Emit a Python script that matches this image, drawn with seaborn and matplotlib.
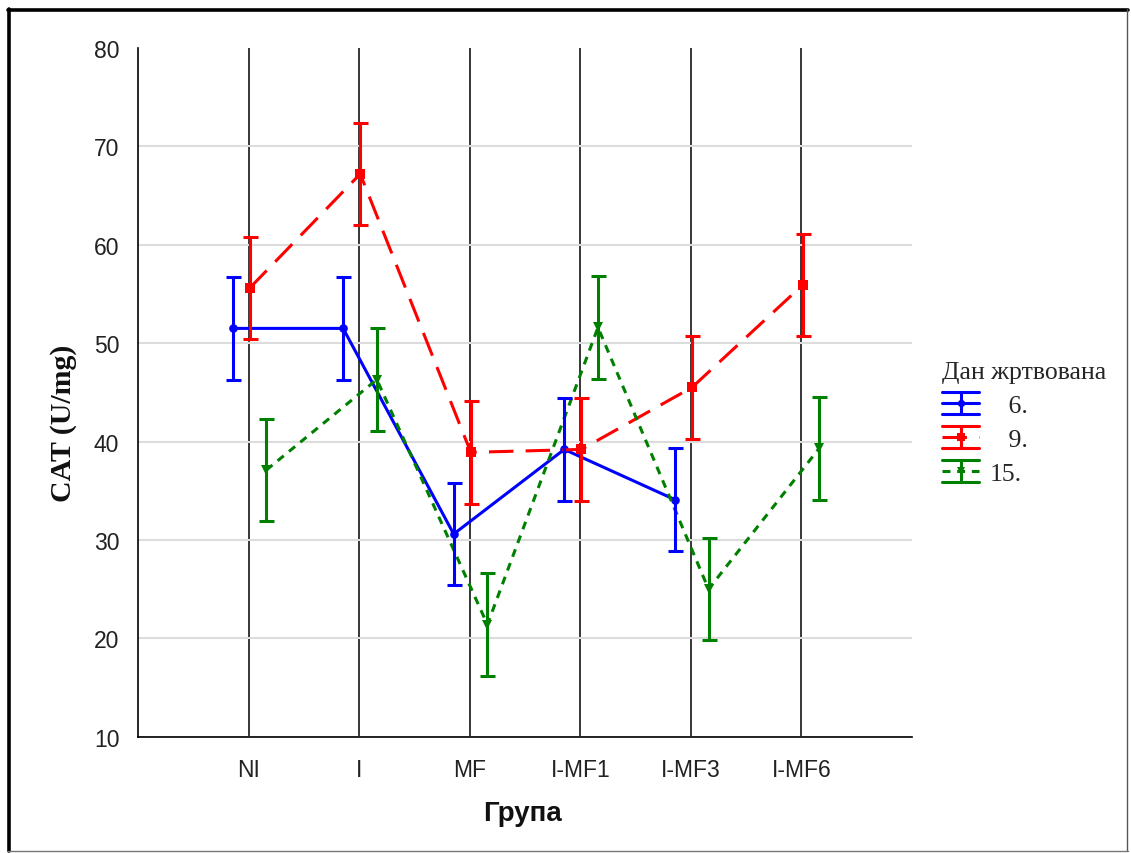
import numpy as np
import pandas as pd
import matplotlib
matplotlib.use("Agg")
import matplotlib.pyplot as plt
import seaborn as sns
from matplotlib.lines import Line2D
from matplotlib.legend_handler import HandlerBase
from matplotlib.ticker import MultipleLocator, FixedLocator

# --- data -------------------------------------------------------------
groups = ["NI", "I", "MF", "I-MF1", "I-MF3", "I-MF6"]
days = ["6.", "9.", "15."]

cat_day6 = [51.5, 51.5, 30.6, 39.2, 34.1, np.nan]
cat_day9 = [55.6, 67.2, 38.9, 39.2, 45.5, 55.9]
cat_day15 = [37.1, 46.3, 21.4, 51.6, 25.0, 39.3]

se_day6 = [5.2, 5.2, 5.2, 5.2, 5.2, np.nan]
se_day9 = [5.2, 5.2, 5.2, 5.2, 5.2, 5.2]
se_day15 = [5.2, 5.2, 5.2, 5.2, 5.2, 5.2]

yticks = [10, 20, 30, 40, 50, 60, 70, 80]

# --- styling ------------------------------------------------------------
colors = {"6.": "#0000ff", "9.": "#ff0000", "15.": "#008000"}
dodge = {"6.": -0.145, "9.": 0.01, "15.": 0.16}
dashes = {"6.": "", "9.": (8, 4), "15.": (2.6, 2.2)}
markers = {"6.": "o", "9.": "s", "15.": "v"}
msizes = {"6.": 6.2, "9.": 6.8, "15.": 7}
LW = 2.2
SERIF = ["Liberation Serif", "DejaVu Serif"]

means = {"6.": cat_day6, "9.": cat_day9, "15.": cat_day15}
errs = {"6.": se_day6, "9.": se_day9, "15.": se_day15}

rows = []
for d in days:
    for i, g in enumerate(groups):
        m, e = means[d][i], errs[d][i]
        if np.isnan(m):
            continue
        rows.append({"day": d, "group": g, "x": i + dodge[d], "mean": m, "se": e})
df = pd.DataFrame(rows)

sns.set_theme(style="white")
plt.rcParams["font.family"] = ["Liberation Sans", "DejaVu Sans"]

fig = plt.figure(figsize=(11.31, 8.54), dpi=100)
ax = fig.add_axes([138 / 1131, (854 - 737.7) / 854, 774 / 1131, 688.7 / 854])

# reference grid: black verticals at groups, light grey horizontals
ax.set_xlim(-1, 6)
ax.set_ylim(10, 80)
ax.set_xticks(range(len(groups)))
ax.set_xticklabels(groups)
ax.xaxis.set_minor_locator(FixedLocator([-1]))
ax.set_yticks(yticks)
ax.yaxis.set_minor_locator(MultipleLocator(2))
ax.grid(axis="x", color="black", lw=1.1)
ax.grid(axis="y", color="#dcdcdc", lw=1.5)
ax.yaxis.get_gridlines()[-1].set_visible(False)
ax.set_axisbelow(True)

for s in ["top", "right"]:
    ax.spines[s].set_visible(False)
for s in ["left", "bottom"]:
    ax.spines[s].set_color("black")
    ax.spines[s].set_linewidth(1.2)

ax.tick_params(axis="both", which="both", direction="out", length=3.5, width=1,
               color="black", labelsize=16.5, labelcolor="#222222")
ax.tick_params(axis="y", which="major", pad=10)
ax.tick_params(axis="x", which="major", pad=12)

# lines and markers
sns.lineplot(data=df, x="x", y="mean", hue="day", style="day",
             palette=colors, dashes=dashes, markers=markers,
             estimator=None, sort=False, legend=False, lw=LW,
             markeredgewidth=0, ax=ax)
for line, d in zip(ax.get_lines(), days):
    line.set_markersize(msizes[d])

# error bars
for d in days:
    sub = df[df["day"] == d]
    ax.errorbar(sub["x"], sub["mean"], yerr=sub["se"], fmt="none",
                ecolor=colors[d], elinewidth=LW, capsize=5.4, capthick=LW)

ax.set_xlabel("Група", fontsize=20, fontweight="bold", color="#111111")
ax.xaxis.set_label_coords(0.497, -0.092)
ax.set_ylabel("CAT (U/mg)", fontsize=21.5, fontweight="bold",
              family=SERIF, color="#111111")
ax.yaxis.set_label_coords(-0.079, 0.457)


# legend with error-bar glyphs
class ErrorGlyph(HandlerBase):
    def create_artists(self, legend, orig_handle, xdescent, ydescent,
                       width, height, fontsize, trans):
        c = orig_handle.get_color()
        x0 = -xdescent
        x1 = x0 + width
        xc = (x0 + x1) / 2
        yc = -ydescent + height / 2
        h = height * 0.6
        arts = [
            Line2D([x0, x1], [yc + h, yc + h], color=c, lw=LW),
            Line2D([x0, x1], [yc - h, yc - h], color=c, lw=LW),
            Line2D([xc, xc], [yc - h, yc + h], color=c, lw=LW),
        ]
        mid = Line2D([x0, x1], [yc, yc])
        mid.update_from(orig_handle)
        mid.set_marker("")
        dot = Line2D([xc], [yc])
        dot.update_from(orig_handle)
        dot.set_linestyle("none")
        dot.set_markersize(orig_handle.get_markersize() * 0.85)
        arts += [mid, dot]
        for a in arts:
            a.set_transform(trans)
        return arts


handles = []
for d in days:
    kw = dict(color=colors[d], lw=LW, marker=markers[d], ms=msizes[d], mew=0)
    if dashes[d]:
        kw["dashes"] = dashes[d]
    handles.append(Line2D([], [], **kw))
labels = ["   6.", "   9.", "15."]
leg = fig.legend(handles, labels, handler_map={Line2D: ErrorGlyph()},
                 loc="upper left", bbox_to_anchor=(942 / 1131, 1 - 362 / 854),
                 frameon=False, title="Дан жртвована",
                 prop={"family": SERIF, "size": 18.5},
                 title_fontproperties={"family": SERIF, "size": 18.5},
                 handlelength=1.44, handleheight=0.7, handletextpad=0.4,
                 labelspacing=0.43, borderpad=0, borderaxespad=0,
                 alignment="left")

# frame around the whole figure
fig.add_artist(Line2D([8 / 1131, 1128 / 1131], [1 - 11 / 854, 1 - 11 / 854],
                      transform=fig.transFigure, color="black", lw=2.6))
fig.add_artist(Line2D([9 / 1131, 9 / 1131], [1 - 10 / 854, 1 - 852 / 854],
                      transform=fig.transFigure, color="black", lw=2.6))
fig.add_artist(Line2D([1127 / 1131, 1127 / 1131], [1 - 10 / 854, 1 - 852 / 854],
                      transform=fig.transFigure, color="#555555", lw=1))
fig.add_artist(Line2D([8 / 1131, 1128 / 1131], [1 - 851.5 / 854, 1 - 851.5 / 854],
                      transform=fig.transFigure, color="#777777", lw=1))

fig.savefig("out.png", dpi=100, facecolor="white")
